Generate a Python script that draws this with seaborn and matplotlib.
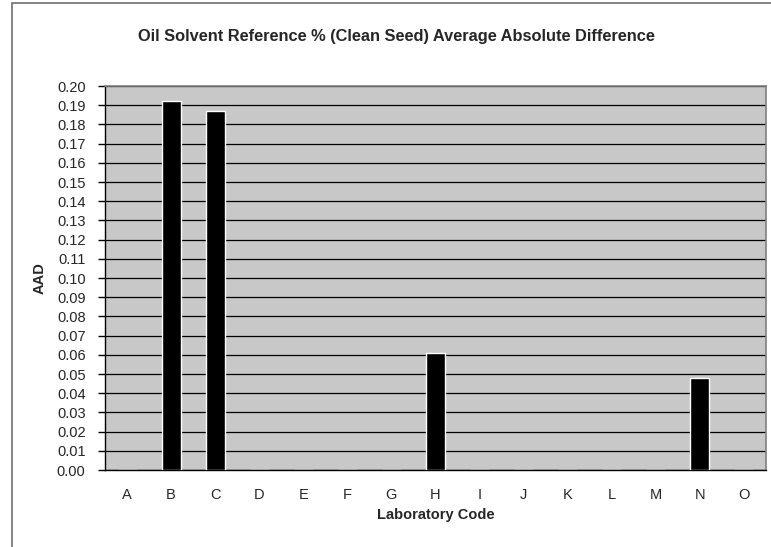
import numpy as np
import pandas as pd
import seaborn as sns
import matplotlib.pyplot as plt
from matplotlib.patches import Rectangle

labs = ['A', 'B', 'C', 'D', 'E', 'F', 'G', 'H', 'I', 'J', 'K', 'L', 'M', 'N', 'O']
aad = [0.0, 0.192, 0.187, 0.0, 0.0, 0.0, 0.0, 0.061, 0.0, 0.0, 0.0, 0.0, 0.0, 0.048, 0.0]
yticks = np.round(np.arange(0, 0.201, 0.01), 2)

sns.set_style('white')
plt.rcParams['font.family'] = ['Liberation Sans', 'DejaVu Sans']

df = pd.DataFrame({'lab': labs, 'aad': aad})

fig = plt.figure(figsize=(7.71, 5.47), dpi=100)
ax = fig.add_axes([105/771, 1-470/547, 661/771, 384/547])
ax.set_facecolor('#c8c8c8')

# outer chart border
fig.patches.append(Rectangle((12/771, -0.05), 1.1, 1-3/547+0.05, transform=fig.transFigure,
                             fill=False, edgecolor='#6e6e6e', linewidth=1.2))

sns.barplot(data=df, x='lab', y='aad', color='black', saturation=1, width=0.43, ax=ax, zorder=3)

ax.set_ylim(0, 0.2)
ax.set_xlim(-0.5, len(labs)-0.5)
ax.set_yticks(yticks)
ax.set_yticklabels([f'{v:.2f}' for v in yticks])
ax.yaxis.grid(True, color='black', linewidth=0.9)
ax.set_axisbelow(True)

ax.set_xticks(np.arange(-0.5, len(labs)), minor=True)
ax.tick_params(axis='x', which='major', length=0, pad=13, labelsize=10.5)
ax.tick_params(axis='x', which='minor', length=5, width=1, color='black', direction='out')
ax.tick_params(axis='y', length=5, width=1, color='black', direction='out', pad=9, labelsize=10.5)
ax.tick_params(bottom=True, left=True)

for s in ['left', 'bottom']:
    ax.spines[s].set_color('black')
    ax.spines[s].set_linewidth(1)
for s in ['top', 'right']:
    ax.spines[s].set_color('#808080')
    ax.spines[s].set_linewidth(1.2)

ax.set_xlabel('Laboratory Code', fontsize=10.5, fontweight='bold')
ax.set_ylabel('AAD', fontsize=10.5, fontweight='bold')
ax.xaxis.set_label_coords(0.5, -38/384)
ax.yaxis.set_label_coords(-58/661, 0.5)

fig.text(396/771, 1-37/547, 'Oil Solvent Reference % (Clean Seed) Average Absolute Difference',
         ha='center', va='center', fontsize=11.8, fontweight='bold')

fig.savefig('out.png', dpi=100)
